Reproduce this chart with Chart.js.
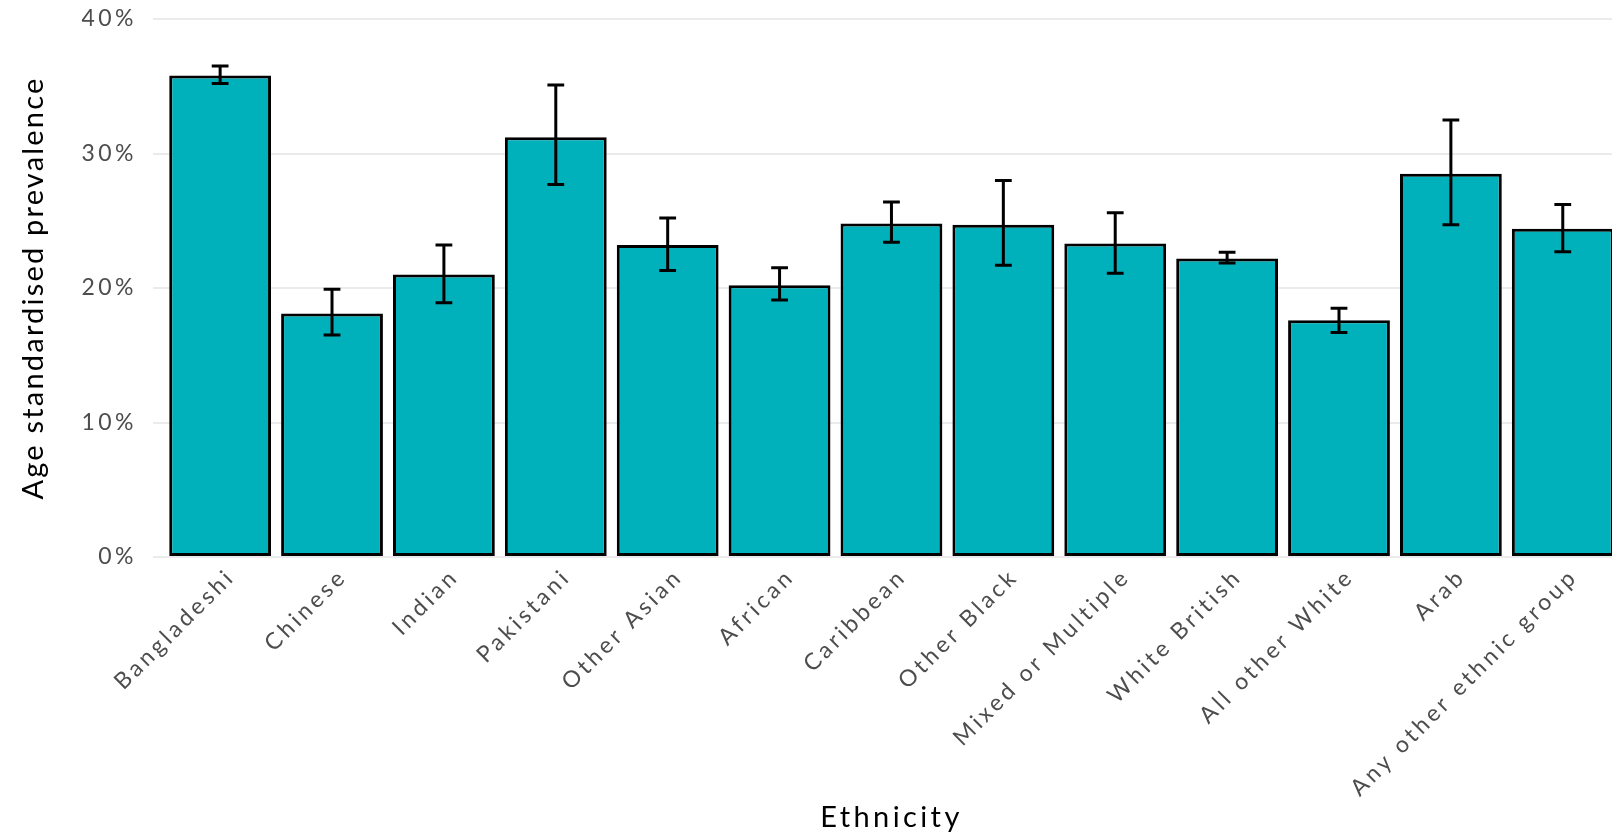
<!DOCTYPE html>
<html>
<head>
<meta charset="utf-8">
<title>Age standardised prevalence by ethnicity</title>
<script src="https://cdn.jsdelivr.net/npm/chart.js@4/dist/chart.umd.min.js"></script>
<style>
  html, body { margin: 0; padding: 0; background: #ffffff; overflow: hidden; }
  #wrap { position: relative; width: 1612px; height: 832px; }
  canvas { display: block; }
</style>
</head>
<body>
<div id="wrap"><canvas id="chart" width="1612" height="832"></canvas></div>
<script>
// Ethnic groups in plotting order
const categories = [
  'Bangladeshi', 'Chinese', 'Indian', 'Pakistani', 'Other Asian', 'African',
  'Caribbean', 'Other Black', 'Mixed or Multiple', 'White British',
  'All other White', 'Arab', 'Any other ethnic group'
];
// Age standardised prevalence (%)
const prevalence = [35.8, 18.1, 21.0, 31.2, 23.2, 20.2, 24.8, 24.7, 23.3, 22.2, 17.6, 28.5, 24.4];
// 95% confidence interval bounds (%)
const ciLower = [35.2, 16.5, 18.9, 27.7, 21.3, 19.1, 23.4, 21.7, 21.1, 21.85, 16.7, 24.7, 22.7];
const ciUpper = [36.5, 19.9, 23.2, 35.1, 25.2, 21.5, 26.4, 28.0, 25.6, 22.65, 18.5, 32.5, 26.2];
// Y axis tick values (%)
const yTicks = [0, 10, 20, 30, 40];

const FONT = 'Lato, "Open Sans", "DejaVu Sans", sans-serif';

// Error bars with end caps, drawn through the chart's scales
const errorBars = {
  id: 'errorBars',
  afterDatasetsDraw(chart) {
    const { ctx, scales: { x, y } } = chart;
    const half = (x.getPixelForValue(1) - x.getPixelForValue(0)) * 0.075;
    ctx.save();
    ctx.strokeStyle = '#000000';
    ctx.lineWidth = 3;
    ctx.lineCap = 'butt';
    categories.forEach((_, i) => {
      const px = x.getPixelForValue(i);
      const yLo = y.getPixelForValue(ciLower[i]);
      const yHi = y.getPixelForValue(ciUpper[i]);
      ctx.beginPath();
      ctx.moveTo(px, yLo); ctx.lineTo(px, yHi);
      ctx.moveTo(px - half, yHi); ctx.lineTo(px + half, yHi);
      ctx.moveTo(px - half, yLo); ctx.lineTo(px + half, yLo);
      ctx.stroke();
    });
    ctx.restore();
  }
};

// Wider letter spacing for axis text; the x title is centred on the middle category
const titleSpacing = { x: '3.4px', y: '2.2px' };
const textSpacing = {
  id: 'textSpacing',
  beforeDraw(chart) {
    const ctx = chart.ctx;
    ctx.letterSpacing = '3.5px';
    Object.values(chart.scales).forEach(s => {
      if (s._spacedTitle) return;
      const drawTitle = s.drawTitle;
      s.drawTitle = function (...args) {
        ctx.save();
        ctx.letterSpacing = titleSpacing[s.id] || '2.2px';
        if (s.id === 'x') {
          const mid = s.getPixelForValue((categories.length - 1) / 2);
          ctx.translate(mid - (s.left + s.right) / 2, 0);
        }
        drawTitle.apply(this, args);
        ctx.restore();
      };
      s._spacedTitle = true;
    });
  }
};

new Chart(document.getElementById('chart'), {
  type: 'bar',
  data: {
    datasets: [{
      data: prevalence.map((v, i) => ({ x: i, y: v })),
      backgroundColor: '#00B0BA',
      borderColor: '#000000',
      borderWidth: 3,
      borderSkipped: false,
      categoryPercentage: 1,
      barPercentage: 0.91
    }]
  },
  options: {
    responsive: false,
    animation: false,
    devicePixelRatio: 1,
    layout: { padding: { top: 19, right: 0, left: 0, bottom: 0 } },
    plugins: { legend: { display: false }, tooltip: { enabled: false } },
    scales: {
      x: {
        type: 'linear',
        offset: false,
        min: -0.6,
        max: 12.44,
        grid: { display: false },
        border: { display: false },
        afterBuildTicks(scale) {
          scale.ticks = categories.map((_, i) => ({ value: i }));
        },
        afterFit(scale) {
          scale.height = 275;
          scale.paddingLeft = 0;
          scale.paddingRight = 0;
        },
        ticks: {
          autoSkip: false,
          maxRotation: 45,
          minRotation: 45,
          padding: -2,
          labelOffset: 11,
          color: '#4D4D4D',
          font: { family: FONT, size: 23 },
          callback: (v) => categories[v]
        },
        title: {
          display: true,
          text: 'Ethnicity',
          color: '#000000',
          font: { family: FONT, size: 29 },
          padding: { top: 0, bottom: -3 }
        }
      },
      y: {
        min: 0,
        max: 40,
        afterBuildTicks(scale) {
          scale.ticks = yTicks.map(v => ({ value: v }));
        },
        afterFit(scale) {
          scale.width = 153;
          scale.paddingTop = 0;
          scale.paddingBottom = 0;
        },
        grid: { color: '#EBEBEB', lineWidth: 2, drawTicks: false },
        border: { display: false },
        ticks: {
          padding: 16,
          color: '#4D4D4D',
          font: { family: FONT, size: 23 },
          callback: (v) => v + '%'
        },
        title: {
          display: true,
          text: 'Age standardised prevalence',
          color: '#000000',
          font: { family: FONT, size: 29 },
          padding: { top: 16, bottom: 0 }
        }
      }
    }
  },
  plugins: [errorBars, textSpacing]
});
</script>
</body>
</html>
